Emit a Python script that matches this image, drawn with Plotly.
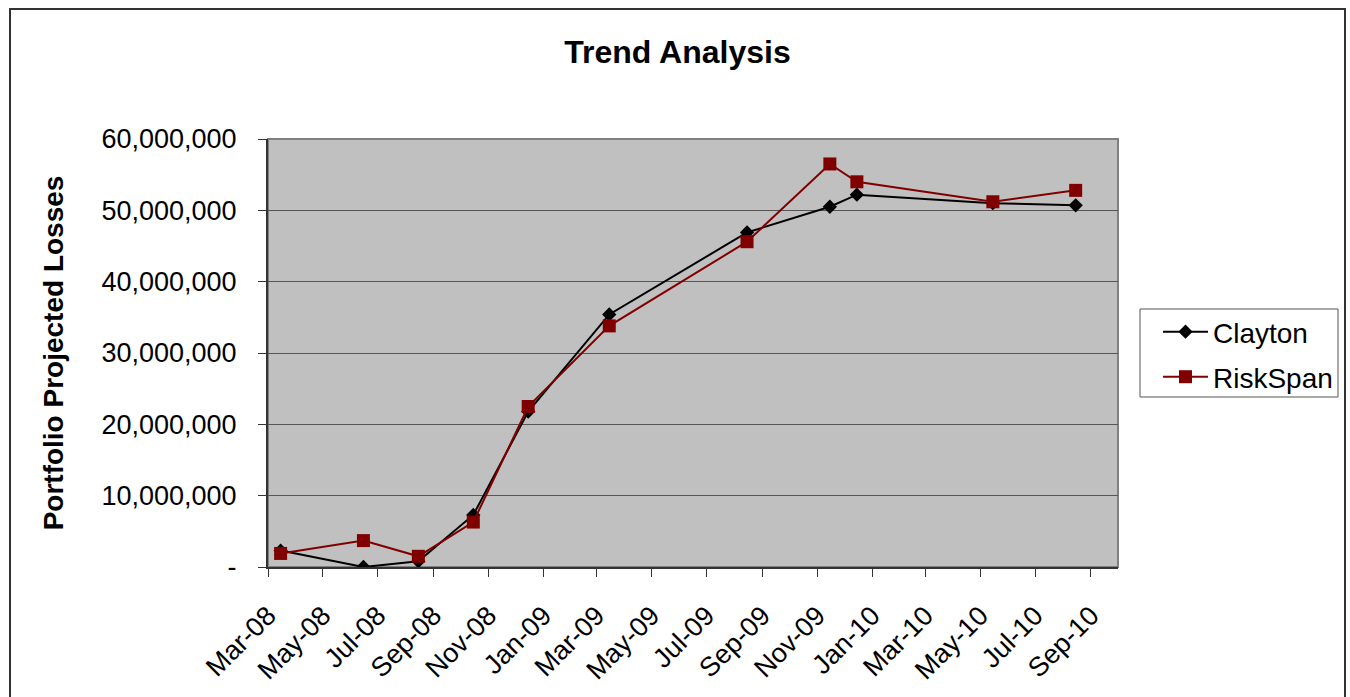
import plotly.graph_objects as go

dates = ["2008-03-15", "2008-06-15", "2008-08-15", "2008-10-15", "2008-12-15",
         "2009-03-15", "2009-08-15", "2009-11-15", "2009-12-15", "2010-05-15",
         "2010-08-15"]
clayton = [2300000, 0, 800000, 7300000, 21800000, 35400000, 46900000,
           50500000, 52200000, 51000000, 50700000]
riskspan = [1900000, 3700000, 1500000, 6300000, 22500000, 33800000, 45600000,
            56500000, 54000000, 51200000, 52800000]

x_tick_dates = ["2008-03-01", "2008-05-01", "2008-07-01", "2008-09-01", "2008-11-01",
                "2009-01-01", "2009-03-01", "2009-05-01", "2009-07-01", "2009-09-01",
                "2009-11-01", "2010-01-01", "2010-03-01", "2010-05-01", "2010-07-01",
                "2010-09-01"]
x_tick_labels = ["Mar-08", "May-08", "Jul-08", "Sep-08", "Nov-08", "Jan-09", "Mar-09",
                 "May-09", "Jul-09", "Sep-09", "Nov-09", "Jan-10", "Mar-10", "May-10",
                 "Jul-10", "Sep-10"]
y_tick_vals = [0, 10000000, 20000000, 30000000, 40000000, 50000000, 60000000]
y_tick_labels = ["-", "10,000,000", "20,000,000", "30,000,000", "40,000,000",
                 "50,000,000", "60,000,000"]

FONT = "Liberation Sans, Arial, sans-serif"
W, H = 1350, 697
L, R, T, B = 268, 1118, 139, 567
pw, ph = R - L, B - T


def px_x(p):
    return (p - L) / pw


def px_y(p):
    return (B - p) / ph


fig = go.Figure()
fig.add_trace(go.Scatter(
    x=dates, y=clayton, name="Clayton", mode="lines+markers",
    line=dict(color="#000000", width=2),
    marker=dict(symbol="diamond", size=11, color="#000000"),
    legend="legend",
))
fig.add_trace(go.Scatter(
    x=dates, y=riskspan, name="RiskSpan", mode="lines+markers",
    line=dict(color="#800000", width=2),
    marker=dict(symbol="square", size=13, color="#800000"),
    legend="legend2",
))

shapes = [
    # outer chart border
    dict(type="rect", xref="paper", yref="paper",
         x0=px_x(10), x1=px_x(1345), y0=px_y(720), y1=px_y(9),
         line=dict(color="#333333", width=2), fillcolor="rgba(0,0,0,0)", layer="below"),
    # plot area border
    dict(type="rect", xref="paper", yref="paper", x0=0, x1=1, y0=0, y1=1,
         line=dict(color="#808080", width=2), fillcolor="rgba(0,0,0,0)", layer="below"),
    # legend box
    dict(type="rect", xref="paper", yref="paper",
         x0=px_x(1140), x1=px_x(1338), y0=px_y(397), y1=px_y(309),
         line=dict(color="#555555", width=1), fillcolor="#FFFFFF", layer="below"),
]

legend_common = dict(xanchor="left", yanchor="middle", bgcolor="rgba(0,0,0,0)",
                     borderwidth=0, font=dict(size=28, family=FONT), itemwidth=45)

fig.update_layout(
    width=W, height=H,
    margin=dict(l=L, r=W - R, t=T, b=H - B, pad=0, autoexpand=False),
    paper_bgcolor="#FFFFFF",
    plot_bgcolor="#C0C0C0",
    font=dict(family=FONT, color="#000000", size=27),
    title=dict(text="<b>Trend Analysis</b>", x=px_x(677.5), xref="paper",
               xanchor="center", y=1 - 52 / H, yanchor="middle",
               font=dict(size=32, family=FONT)),
    showlegend=True,
    legend=dict(x=px_x(1158), y=px_y(332), **legend_common),
    legend2=dict(x=px_x(1158), y=px_y(377), **legend_common),
    shapes=shapes,
    xaxis=dict(
        type="date", range=["2008-03-01", "2010-10-01"], automargin=False,
        tickmode="array", tickvals=x_tick_dates, ticktext=x_tick_labels,
        tickangle=-45, ticks="outside", ticklen=8, tickwidth=1, tickcolor="#333333",
        showgrid=False, zeroline=False,
        showline=True, linecolor="#333333", linewidth=2,
        tickfont=dict(size=27, family=FONT), ticklabelstandoff=12,
    ),
    yaxis=dict(
        range=[0, 60000000], tickmode="array", tickvals=y_tick_vals, automargin=False,
        ticktext=y_tick_labels, ticks="outside", ticklen=8, tickwidth=1,
        tickcolor="#333333", showgrid=True, gridcolor="#555555", gridwidth=1,
        zeroline=False, showline=True, linecolor="#333333", linewidth=2,
        tickfont=dict(size=27, family=FONT), ticklabelstandoff=16,
        title=dict(text="<b>Portfolio Projected Losses</b>",
                   font=dict(size=28, family=FONT), standoff=30),
    ),
)

fig.write_html("out.html")
